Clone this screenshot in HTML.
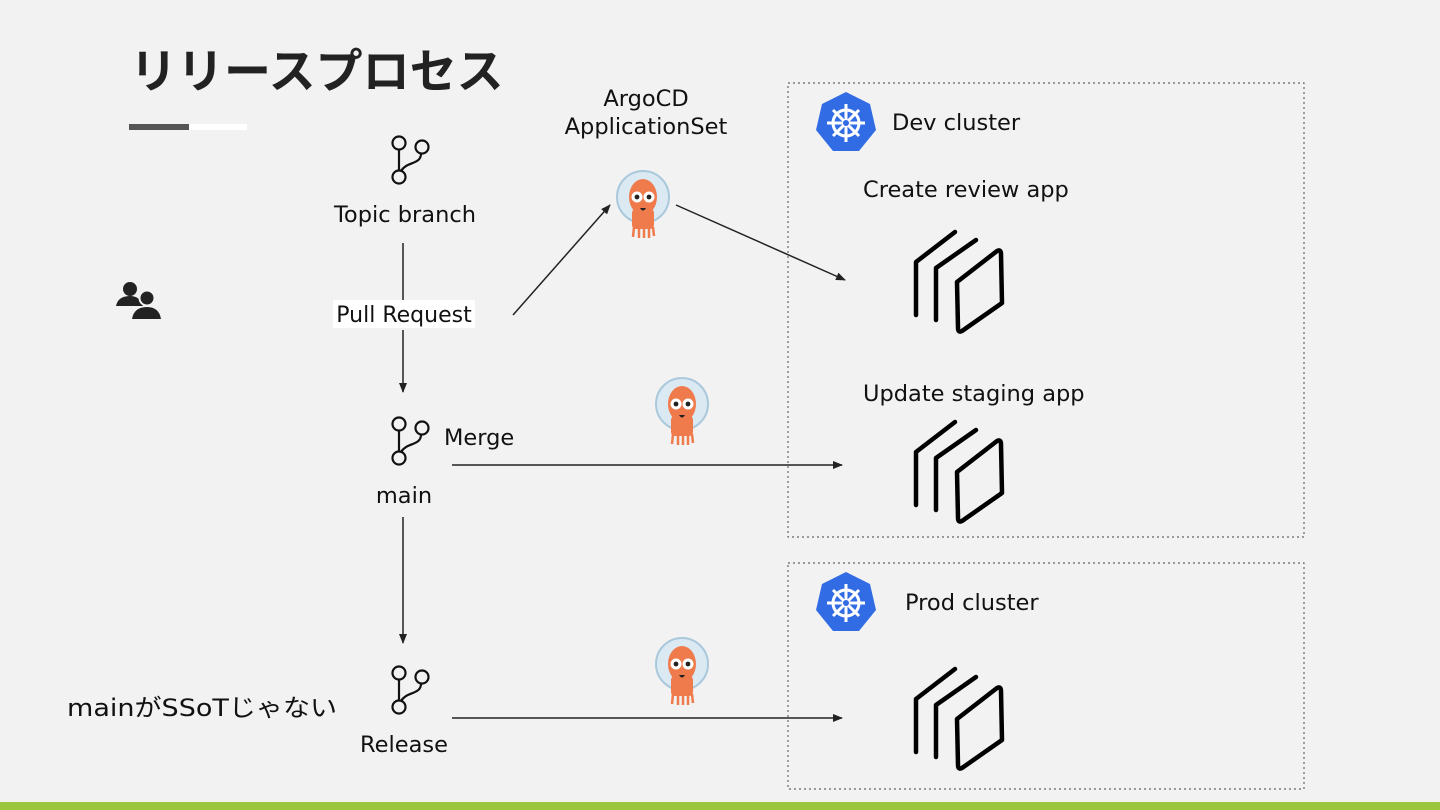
<!DOCTYPE html>
<html><head><meta charset="utf-8"><style>
html,body{margin:0;padding:0;background:#f2f2f2;}
svg{display:block;font-family:"DejaVu Sans","Liberation Sans","Noto Sans CJK JP",sans-serif;}
</style></head><body>
<svg width="1440" height="810" viewBox="0 0 1440 810">
<defs>
<marker id="ah" markerWidth="10" markerHeight="8" refX="9" refY="4" orient="auto" markerUnits="userSpaceOnUse"><path d="M0,0 L10,4 L0,8 Z" fill="#222"/></marker>
<g id="git" fill="none" stroke="#111" stroke-width="2.2">
<circle cx="0" cy="0" r="6.5"/><circle cx="23" cy="4" r="6.5"/><circle cx="0" cy="34" r="6.5"/>
<line x1="0" y1="6.5" x2="0" y2="27.5"/><path d="M22,10.5 C22,22 8,18 2,28"/>
</g>
<g id="panel" fill="none" stroke="#000" stroke-width="4.5" stroke-linejoin="round" stroke-linecap="round">
<path d="M916,315 L916,262 L955,232"/>
<path d="M936,320 L936,268 L976,240"/>
<path d="M957,282 L997,251 Q1001,249 1001,254 L1002,303 L962,331 Q958,333 958,328 Z"/>
</g>
<g id="kube">
<polygon points="0,-31 24,-19 30,7 13,28 -13,28 -30,7 -24,-19" fill="#326ce5"/>
<g stroke="#fff" stroke-width="3" fill="none"><circle r="13"/>
<line x1="0" y1="-19" x2="0" y2="19"/><line x1="-19" y1="0" x2="19" y2="0"/>
<line x1="-13" y1="-13" x2="13" y2="13"/><line x1="13" y1="-13" x2="-13" y2="13"/></g>
<circle r="3" fill="#326ce5"/>
</g>
<g id="argo">
<circle cx="0" cy="-6" r="26" fill="#dbe9f2" stroke="#aac8dc" stroke-width="2"/>
<ellipse cx="0" cy="-6" rx="14" ry="18" fill="#ef7b4d"/>
<rect x="-11" y="6" width="22" height="20" rx="4" fill="#ef7b4d"/>
<g stroke="#ef7b4d" stroke-width="2.5"><line x1="-9" y1="24" x2="-10" y2="34"/><line x1="-4" y1="24" x2="-4" y2="35"/><line x1="1" y1="24" x2="1" y2="35"/><line x1="6" y1="24" x2="6" y2="35"/><line x1="10" y1="24" x2="11" y2="33"/></g>
<circle cx="-6" cy="-6" r="5.5" fill="#fff"/><circle cx="6" cy="-6" r="5.5" fill="#fff"/>
<circle cx="-6" cy="-6" r="2.4" fill="#222"/><circle cx="6" cy="-6" r="2.4" fill="#222"/>
<path d="M-3,5 Q0,10 3,5" fill="#222"/>
</g>
</defs>
<text x="130" y="88" font-size="47" font-weight="bold" fill="#222" font-family="'Noto Sans CJK JP',sans-serif">リリースプロセス</text>
<rect x="129" y="124" width="60" height="6" fill="#555"/><rect x="189" y="124" width="58" height="6" fill="#fff"/>
<rect x="788" y="83" width="516" height="454" fill="none" stroke="#666" stroke-width="1.2" stroke-dasharray="2,3"/>
<rect x="788" y="563" width="516" height="226" fill="none" stroke="#666" stroke-width="1.2" stroke-dasharray="2,3"/>
<use href="#kube" x="846" y="123"/><use href="#kube" x="846" y="603"/>
<g font-size="22.5" fill="#111">
<text x="892" y="130">Dev cluster</text>
<text x="905" y="610">Prod cluster</text>
<text x="863" y="197">Create review app</text>
<text x="863" y="401">Update staging app</text>
<text x="646" y="106" text-anchor="middle">ArgoCD</text>
<text x="646" y="134" text-anchor="middle">ApplicationSet</text>
<text x="405" y="222" text-anchor="middle">Topic branch</text>
<text x="444" y="445">Merge</text>
<text x="404" y="503" text-anchor="middle">main</text>
<text x="404" y="752" text-anchor="middle">Release</text>
<text x="67" y="716" font-size="24" textLength="270" lengthAdjust="spacingAndGlyphs" font-family="'DejaVu Sans','Noto Sans CJK JP',sans-serif">mainがSSoTじゃない</text>
</g>
<rect x="333" y="300" width="142" height="28" fill="#fff"/>
<text x="404" y="322" font-size="22" text-anchor="middle" fill="#111">Pull Request</text>
<use href="#git" x="399" y="143"/><use href="#git" x="399" y="424"/><use href="#git" x="399" y="673"/>
<use href="#panel"/><use href="#panel" y="190"/><use href="#panel" y="437"/>
<use href="#argo" x="643" y="203"/><use href="#argo" x="682" y="410"/><use href="#argo" x="682" y="670"/>
<g stroke="#222" stroke-width="1.5" fill="none">
<line x1="403" y1="243" x2="403" y2="300"/>
<line x1="403" y1="330" x2="403" y2="392" marker-end="url(#ah)"/>
<line x1="403" y1="517" x2="403" y2="643" marker-end="url(#ah)"/>
<line x1="513" y1="315" x2="610" y2="205" marker-end="url(#ah)"/>
<line x1="676" y1="205" x2="845" y2="280" marker-end="url(#ah)"/>
<line x1="452" y1="465" x2="842" y2="465" marker-end="url(#ah)"/>
<line x1="452" y1="718" x2="842" y2="718" marker-end="url(#ah)"/>
</g>
<g fill="#222">
<circle cx="130" cy="289" r="7"/><path d="M116,306 Q118,296 130,296 Q140,296 143,306 Z"/>
<circle cx="147" cy="298" r="7.5" stroke="#f2f2f2" stroke-width="2"/><path d="M132,319 Q134,307 147,307 Q159,307 161,319 Z"/>
</g>
<rect x="0" y="802" width="1440" height="8" fill="#9bc53d"/>
</svg>
</body></html>
